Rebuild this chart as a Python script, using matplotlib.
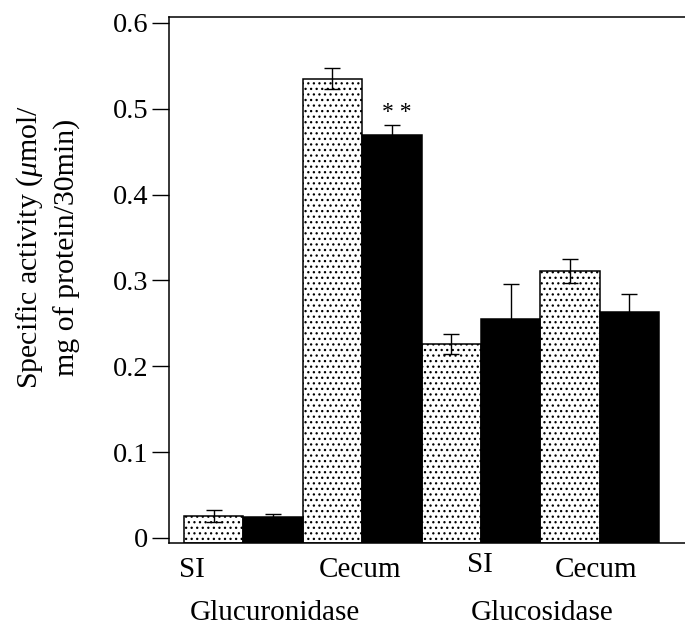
import numpy as np
import matplotlib
matplotlib.use("Agg")
import matplotlib.pyplot as plt

plt.rcParams["font.family"] = ["Liberation Serif", "DejaVu Serif"]
plt.rcParams["mathtext.fontset"] = "custom"
plt.rcParams["mathtext.rm"] = "Liberation Serif"
plt.rcParams["mathtext.it"] = "Liberation Serif:italic"
plt.rcParams["hatch.linewidth"] = 0.9

# Specific activity for each enzyme / gut section, two diet groups
sections = ["SI", "Cecum", "SI", "Cecum"]
enzymes = ["Glucuronidase", "Glucosidase"]
control_mean = [0.026, 0.535, 0.226, 0.311]
control_err = [0.007, 0.012, 0.012, 0.014]
treated_mean = [0.024, 0.469, 0.255, 0.263]
treated_err = [0.004, 0.012, 0.041, 0.021]
yticks = [0, 0.1, 0.2, 0.3, 0.4, 0.5, 0.6]
ytick_labels = ["0", "0.1", "0.2", "0.3", "0.4", "0.5", "0.6"]
significance = "* *"  # treated Glucuronidase / Cecum

fig = plt.figure(figsize=(6.85, 6.26), dpi=100)
ax = fig.add_axes([0.2467, 0.1321, 0.7533, 0.8403])

y0, y1 = -0.0062, 0.6066
ax.set_ylim(y0, y1)
ax.set_xlim(-0.7525, 7.935)

n = len(sections)
x_ctrl = np.arange(n) * 2
x_trt = x_ctrl + 1
ctrl = np.array(control_mean)
trt = np.array(treated_mean)

ax.bar(x_ctrl, ctrl - y0, bottom=y0, width=1.0, color="white",
       edgecolor="black", linewidth=1.1, hatch="...", zorder=2)
ax.bar(x_trt, trt - y0, bottom=y0, width=1.0, color="black",
       edgecolor="black", linewidth=1.1, zorder=2)

ax.errorbar(x_ctrl, ctrl, yerr=control_err, fmt="none", ecolor="black",
            elinewidth=1.0, capsize=5.5, capthick=1.0, zorder=3)
ax.errorbar(x_trt, trt, yerr=treated_err, fmt="none", ecolor="black",
            elinewidth=1.0, capsize=5.5, capthick=1.0, zorder=3)

ax.text(x_trt[1] + 0.08, treated_mean[1] + treated_err[1] + 0.002,
        significance, ha="center", va="bottom", fontsize=17)

# Axes frame: left, top, bottom only
ax.spines["right"].set_visible(False)
for s in ["left", "top", "bottom"]:
    ax.spines[s].set_linewidth(1.1)
ax.set_yticks(yticks)
ax.set_yticklabels(ytick_labels, fontsize=20.5)
ax.tick_params(axis="y", direction="out", length=12, width=1.0, pad=3)
ax.set_xticks([])

# Section and enzyme labels under the bars
xt = ax.get_xaxis_transform()
section_x = [-0.36, 2.46, 4.49, 6.44]
section_y = [-0.064, -0.064, -0.055, -0.064]
for label, sx, sy in zip(sections, section_x, section_y):
    ax.text(sx, sy, label, transform=xt, ha="center", va="baseline",
            fontsize=21)
enzyme_x = [1.03, 5.53]
for label, ex in zip(enzymes, enzyme_x):
    ax.text(ex, -0.146, label, transform=xt, ha="center", va="baseline",
            fontsize=21)

fig.text(0.0693, 0.605,
         "Specific activity ($\\mu$mol/\nmg of protein/30min)",
         rotation=90, ha="center", va="center", multialignment="center",
         fontsize=21.5, linespacing=1.4)

fig.savefig("out.png", dpi=100)
